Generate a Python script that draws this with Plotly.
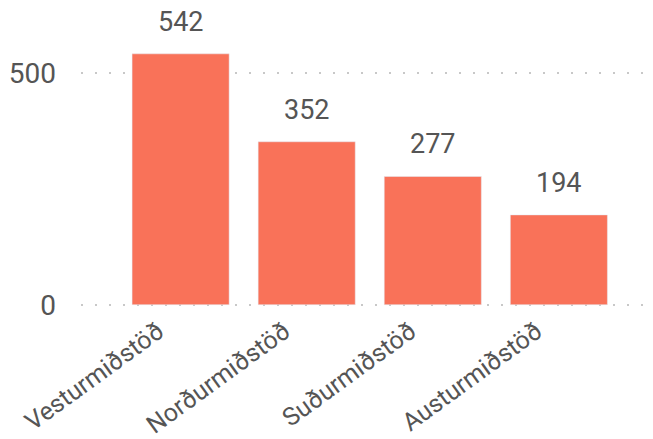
import plotly.graph_objects as go

categories = ["Vesturmiðstöð", "Norðurmiðstöð", "Suðurmiðstöð", "Austurmiðstöð"]
values = [542, 352, 277, 194]
y_tick_vals = [0, 500]
y_tick_text = ["0", "500"]

fig = go.Figure(go.Bar(
    x=categories, y=values,
    marker=dict(color="#F97259"),
    cliponaxis=False,
))
for c, v in zip(categories, values):
    fig.add_annotation(x=c, y=v, text=str(v), showarrow=False, yanchor="bottom", yshift=14,
                       font=dict(size=27, color="#555555", family="Roboto"))
fig.update_layout(
    width=653, height=439,
    margin=dict(l=73, r=0, t=19, b=140),
    paper_bgcolor="white", plot_bgcolor="white",
    bargap=0.23,
    font=dict(family="Roboto", color="#555555"),
    showlegend=False,
)
fig.update_xaxes(range=[-0.79, 3.81], tickangle=-36, tickfont=dict(size=25, color="#555555"),
                 showgrid=False, showline=False, ticks="", automargin=False,
                 ticklabelshift=-22, ticklabelstandoff=4)
fig.update_yaxes(range=[-5, 600], tickvals=y_tick_vals, ticktext=y_tick_text,
                 tickfont=dict(size=28, color="#555555"),
                 showgrid=True, gridcolor="#c8c8c8", gridwidth=1.5, griddash="2px,12px",
                 zeroline=False, showline=False, ticks="", ticklabelstandoff=24, automargin=False)
fig.write_html("out.html")
